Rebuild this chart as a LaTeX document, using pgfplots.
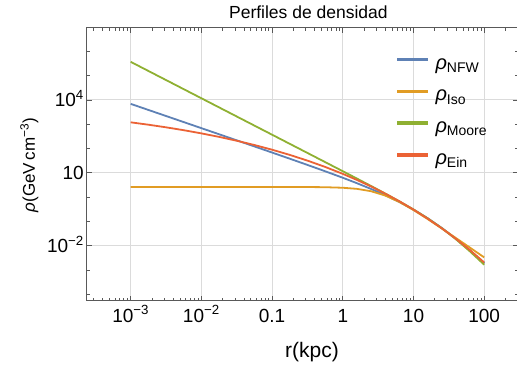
\documentclass[border=0pt]{standalone}
\usepackage{fontspec}
\setmainfont{Liberation Sans}
\usepackage{pgfplots}
\pgfplotsset{compat=1.18}
\definecolor{cNFW}{HTML}{5E81B5}
\definecolor{cIso}{HTML}{E19C24}
\definecolor{cMoore}{HTML}{8FB032}
\definecolor{cEin}{HTML}{EB6235}
\begin{document}
\begin{tikzpicture}
\begin{axis}[
  scale only axis, width=431bp, height=272.7bp,
  xmode=log, ymode=log,
  xmin=2.41e-4, xmax=300.6, ymin=5.46e-5, ymax=9.18e6,
  xtick={1e-3,1e-2,0.1,1,10,100},
  xticklabels={10\textsuperscript{−3},10\textsuperscript{−2},0.1,1,10,100},
  minor xtick={3e-4,4e-4,5e-4,6e-4,7e-4,8e-4,9e-4,
    2e-3,3e-3,4e-3,5e-3,6e-3,7e-3,8e-3,9e-3,
    0.02,0.03,0.04,0.05,0.06,0.07,0.08,0.09,
    0.2,0.3,0.4,0.5,0.6,0.7,0.8,0.9,
    2,3,4,5,6,7,8,9,20,30,40,50,60,70,80,90,200},
  ytick={1e-2,10,1e4},
  yticklabels={10\textsuperscript{−2},10,10\textsuperscript{4}},
  minor ytick={1e-4,1e-3,0.1,1,100,1000,1e5,1e6},
  grid=major,
  major grid style={black!14, line width=1bp},
  axis line style={black!65, line width=1bp},
  tick style={black!65, line width=0.8bp},
  major tick length=5bp, minor tick length=2.7bp,
  xticklabel style={font=\fontsize{19bp}{22bp}\selectfont, anchor=base, yshift=-21.3bp, inner sep=0pt},
  yticklabel style={font=\fontsize{19bp}{22bp}\selectfont, anchor=base east, yshift=-6.8bp, xshift=-3bp, inner sep=0pt},
  title={Perfiles de densidad},
  title style={at={(axis description cs:0.5137,1)}, anchor=base, yshift=3.7bp, inner sep=0pt, font=\fontsize{17.5bp}{20bp}\selectfont},
  xlabel={r(kpc)},
  xlabel style={at={([yshift=-56.6bp]axis description cs:0.522,0)}, anchor=base, inner sep=0pt, font=\fontsize{21bp}{24bp}\selectfont},
  ylabel={\textit{ρ}(GeV\,cm\textsuperscript{−3})},
  ylabel style={at={([xshift=-52bp]axis description cs:0,0.4976)}, anchor=base, inner sep=0pt, font=\fontsize{17bp}{20bp}\selectfont},
  legend image code/.code={\fill[#1] (0bp,4.2bp) rectangle (28.7bp,5.8bp);},
  legend cell align=left,
  legend style={at={(axis description cs:0.7193,0.9002)}, anchor=north west, draw=none, fill=none,
    inner sep=0pt, outer sep=0pt, column sep=8bp, row sep=12.7bp,
    font=\fontsize{20bp}{23bp}\selectfont,
    nodes={inner sep=0pt, text height=14bp, text depth=5bp}},
]
\addplot[cNFW, line width=1.8bp] coordinates {
(0.001,6920) (0.0017783,3890) (0.0031623,2188) (0.0056234,1230) (0.01,691.3)
(0.017783,388.4) (0.031623,218.2) (0.056234,122.4) (0.1,68.5) (0.17783,38.23)
(0.31623,21.21) (0.56234,11.64) (1,6.277) (1.5849,3.749) (2.5119,2.175)
(3.9811,1.209) (6.3096,0.6336) (10,0.3075) (15.849,0.1359) (25.119,0.05413)
(39.811,0.01943) (63.096,0.006353) (100,0.001922)};
\addlegendentry{\textit{ρ}\textsubscript{NFW}}
\addplot[cIso, line width=1.8bp] coordinates {
(0.001,2.63) (0.01,2.63) (0.031623,2.6298) (0.1,2.6279) (0.17783,2.6234)
(0.31623,2.6093) (0.56234,2.5656) (1,2.4367) (1.5849,2.1929) (2.5119,1.7526)
(3.9811,1.1650) (6.3096,0.63237) (10,0.29434) (15.849,0.12565) (25.119,0.05150)
(39.811,0.020748) (63.096,0.0082993) (100,0.0033102)};
\addlegendentry{\textit{ρ}\textsubscript{Iso}}
\addplot[cMoore, line width=1.8bp] coordinates {
(0.001,371500) (0.0017783,156700) (0.0031623,66070) (0.0056234,27860) (0.01,11750)
(0.017783,4955) (0.031623,2089) (0.056234,881) (0.1,371.4) (0.17783,156.6)
(0.31623,66.0) (0.56234,27.79) (1,11.68) (1.5849,5.819) (2.5119,2.882)
(3.9811,1.411) (6.3096,0.6761) (10,0.3116) (15.849,0.1345) (25.119,0.05284)
(39.811,0.01850) (63.096,0.005789) (100,0.001658)};
\addlegendentry{\textit{ρ}\textsubscript{Moore}}
\addplot[cEin, line width=1.8bp] coordinates {
(0.001,1201.5) (0.0017783,959.5) (0.0031623,749.1) (0.0056234,569.9) (0.01,421.6)
(0.017783,302.5) (0.031623,209.6) (0.056234,139.97) (0.1,89.65) (0.17783,54.85)
(0.31623,31.90) (0.56234,17.55) (1,9.080) (1.5849,5.0993) (2.5119,2.7417)
(3.9811,1.3968) (6.3096,0.6756) (10,0.3071) (15.849,0.1310) (25.119,0.05215)
(39.811,0.01926) (63.096,0.006556) (100,0.002045)};
\addlegendentry{\textit{ρ}\textsubscript{Ein}}
\end{axis}
\pgfresetboundingbox
\path ([shift={(-87bp,-65.3bp)}]current axis.south west) rectangle ([shift={(430bp,300.7bp)}]current axis.south west);
\end{tikzpicture}
\end{document}
